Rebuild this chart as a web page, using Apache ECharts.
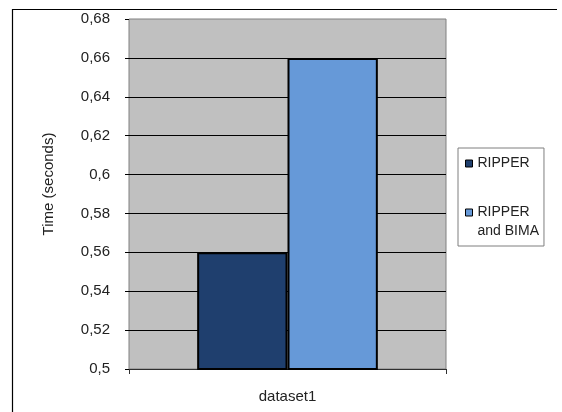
<!DOCTYPE html>
<html>
<head>
<meta charset="utf-8">
<style>
  html, body { margin: 0; padding: 0; background: #ffffff; }
  #chart { width: 562px; height: 412px; }
</style>
<script src="https://cdn.jsdelivr.net/npm/echarts@6/dist/echarts.min.js"></script>
</head>
<body>
<div id="chart"></div>
<script>
// Chart data
const categories = ['dataset1'];
const seriesNames = ['RIPPER', 'RIPPER\nand BIMA'];
const ripperTimes = [0.56];
const ripperBimaTimes = [0.66];
const seriesColors = ['#1f3f6e', '#6699d8'];
const yMin = 0.5;
const yMax = 0.68;
const yStep = 0.02;
const yAxisTitle = 'Time (seconds)';

const FONT = '"Liberation Sans", Arial, sans-serif';

// Decimal comma formatting: 0.60 -> "0,6", 0.68 -> "0,68"
function fmtComma(v) {
  return v.toFixed(2).replace(/0$/, '').replace('.', ',');
}

// Multi-line legend entries: a leading empty line keeps the swatch
// level with the first line of text.
function legendText(name) {
  return name.indexOf('\n') >= 0 ? '\n' + name : name;
}

const chart = echarts.init(document.getElementById('chart'), null, { renderer: 'canvas' });

const option = {
  animation: false,
  backgroundColor: '#ffffff',
  grid: {
    left: 129, right: 116, top: 19, bottom: 43,
    show: true,
    backgroundColor: '#c0c0c0',
    borderColor: '#808080',
    borderWidth: 1
  },
  legend: {
    orient: 'vertical',
    left: 458,
    top: 148,
    padding: [6, 5, 5, 7],
    itemGap: 11,
    itemWidth: 7,
    itemHeight: 7,
    icon: 'rect',
    borderColor: '#7f7f7f',
    borderWidth: 1,
    backgroundColor: '#ffffff',
    itemStyle: { borderColor: '#000000', borderWidth: 1 },
    textStyle: { fontFamily: FONT, fontSize: 14, color: '#222222', lineHeight: 19 },
    formatter: legendText,
    data: seriesNames
  },
  xAxis: {
    type: 'category',
    data: categories,
    boundaryGap: true,
    axisLine: { show: true, lineStyle: { color: '#303030', width: 1 } },
    axisTick: { show: true, length: 5, lineStyle: { color: '#303030' } },
    axisLabel: { margin: 20, fontFamily: FONT, fontSize: 15, color: '#222222' },
    splitLine: { show: false }
  },
  yAxis: {
    type: 'value',
    min: yMin,
    max: yMax,
    interval: yStep,
    name: yAxisTitle,
    nameLocation: 'middle',
    nameGap: 73,
    nameRotate: 90,
    nameTextStyle: { fontFamily: FONT, fontSize: 15, color: '#222222', padding: [0, 0, 0, 20] },
    axisLine: { show: false },
    axisTick: { show: true, length: 4, lineStyle: { color: '#000000' } },
    axisLabel: {
      margin: 19,
      fontFamily: FONT,
      fontSize: 15,
      color: '#222222',
      formatter: fmtComma
    },
    splitLine: { show: true, showMinLine: false, showMaxLine: false, lineStyle: { color: '#000000', width: 1 } }
  },
  series: [
    {
      name: seriesNames[0],
      type: 'bar',
      data: ripperTimes,
      barWidth: '28.5%',
      barGap: '0%',
      itemStyle: { color: seriesColors[0], borderColor: '#000000', borderWidth: 2 }
    },
    {
      name: seriesNames[1],
      type: 'bar',
      data: ripperBimaTimes,
      barWidth: '28.5%',
      barGap: '0%',
      itemStyle: { color: seriesColors[1], borderColor: '#000000', borderWidth: 2 }
    }
  ],
  graphic: [
    {
      type: 'polyline',
      silent: true,
      shape: { points: [[12.5, 412], [12.5, 9.5], [557, 9.5]] },
      style: { stroke: '#000000', lineWidth: 1.2, fill: null }
    }
  ]
};

chart.setOption(option);
</script>
</body>
</html>
